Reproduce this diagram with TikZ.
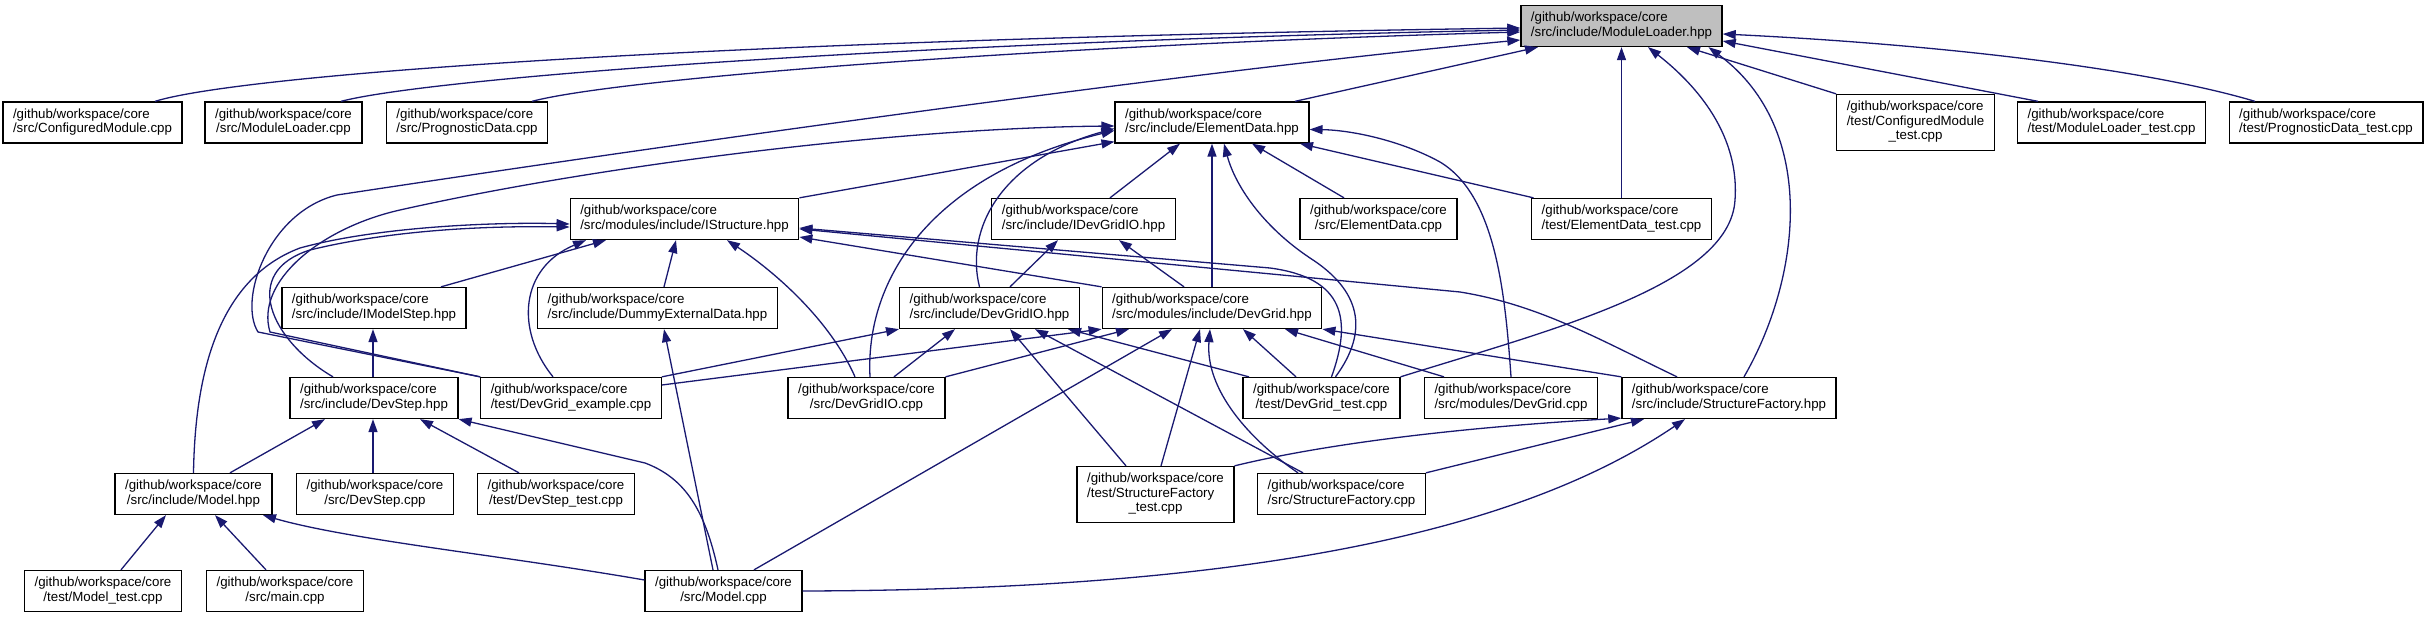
\documentclass[tikz,border=0pt]{standalone}
\usepackage{fontspec}
\setmainfont{Liberation Sans}
\usetikzlibrary{arrows.meta}
\definecolor{navy}{HTML}{191970}
\definecolor{grey75}{HTML}{BFBFBF}
\newcommand{\lbl}[2]{\begin{tabular}{@{}l@{}}#1\\\multicolumn{1}{@{}c@{}}{#2}\end{tabular}}
\newcommand{\lblt}[3]{\begin{tabular}{@{}l@{}}#1\\#2\\\multicolumn{1}{@{}c@{}}{#3}\end{tabular}}
\newcommand{\gwc}{/github/workspace/core}
\tikzset{
  box/.style={draw=black, fill=white, line width=1.3pt, inner xsep=10pt, inner ysep=0pt,
              minimum height=41pt, font=\fontsize{13.3}{14.5}\selectfont},
  boxthree/.style={box, minimum height=56pt},
  rootbox/.style={box, fill=grey75},
  inc/.style={draw=navy, line width=1.3pt, -{Triangle[length=13pt,width=9pt]}}
}
\begin{document}
\begin{tikzpicture}[x=1pt,y=-1pt]
\useasboundingbox (0,0) rectangle (2429,617);
% rank 0
\node[rootbox] (MLH) at (1621.5,26) {\lbl{\gwc}{/src/include/ModuleLoader.hpp}};
% rank 1
\node[box] (CMcpp) at (92.5,122.5) {\lbl{\gwc}{/src/ConfiguredModule.cpp}};
\node[box] (MLcpp) at (283.5,122.5) {\lbl{\gwc}{/src/ModuleLoader.cpp}};
\node[box] (PDcpp) at (467,122.5) {\lbl{\gwc}{/src/PrognosticData.cpp}};
\node[box] (EDH) at (1212,122.5) {\lbl{\gwc}{/src/include/ElementData.hpp}};
\node[boxthree] (CMtest) at (1915.5,122.5) {\lblt{\gwc}{/test/ConfiguredModule}{\_test.cpp}};
\node[box] (MLtest) at (2111.5,122.5) {\lbl{\gwc}{/test/ModuleLoader\_test.cpp}};
\node[box] (PDtest) at (2326,122.5) {\lbl{\gwc}{/test/PrognosticData\_test.cpp}};
% rank 2
\node[box] (IStr) at (684.5,219) {\lbl{\gwc}{/src/modules/include/IStructure.hpp}};
\node[box] (IDGIO) at (1083.5,219) {\lbl{\gwc}{/src/include/IDevGridIO.hpp}};
\node[box] (EDcpp) at (1378.5,219) {\lbl{\gwc}{/src/ElementData.cpp}};
\node[box] (EDtest) at (1621.5,219) {\lbl{\gwc}{/test/ElementData\_test.cpp}};
% rank 3
\node[box] (IMS) at (374,308) {\lbl{\gwc}{/src/include/IModelStep.hpp}};
\node[box] (DED) at (657.5,308) {\lbl{\gwc}{/src/include/DummyExternalData.hpp}};
\node[box] (DGIOh) at (989.5,308) {\lbl{\gwc}{/src/include/DevGridIO.hpp}};
\node[box] (DGh) at (1212,308) {\lbl{\gwc}{/src/modules/include/DevGrid.hpp}};
% rank 4
\node[box] (DSh) at (374,398) {\lbl{\gwc}{/src/include/DevStep.hpp}};
\node[box] (DGex) at (571,398) {\lbl{\gwc}{/test/DevGrid\_example.cpp}};
\node[box] (DGIOcpp) at (866.5,398) {\lbl{\gwc}{/src/DevGridIO.cpp}};
\node[box] (DGtest) at (1321.5,398) {\lbl{\gwc}{/test/DevGrid\_test.cpp}};
\node[box] (DGcpp) at (1511,398) {\lbl{\gwc}{/src/modules/DevGrid.cpp}};
\node[box] (SFh) at (1729,398) {\lbl{\gwc}{/src/include/StructureFactory.hpp}};
% rank 5
\node[box] (Mh) at (193.5,494) {\lbl{\gwc}{/src/include/Model.hpp}};
\node[box] (DScpp) at (375,494) {\lbl{\gwc}{/src/DevStep.cpp}};
\node[box] (DStest) at (556,494) {\lbl{\gwc}{/test/DevStep\_test.cpp}};
\node[boxthree] (SFtest) at (1155.5,494.5) {\lblt{\gwc}{/test/StructureFactory}{\_test.cpp}};
\node[box] (SFcpp) at (1341.5,494) {\lbl{\gwc}{/src/StructureFactory.cpp}};
% rank 6
\node[box] (Mtest) at (103,591) {\lbl{\gwc}{/test/Model\_test.cpp}};
\node[box] (main) at (285,591) {\lbl{\gwc}{/src/main.cpp}};
\node[box] (Mcpp) at (723.5,591) {\lbl{\gwc}{/src/Model.cpp}};

% ---- edges into ModuleLoader.hpp
\draw[inc] ([xshift=62.5pt]CMcpp.north) .. controls (240,75) and (700,40) .. ([yshift=-2pt]MLH.west);
\draw[inc] ([xshift=57.5pt]MLcpp.north) .. controls (430,78) and (900,42) .. ([yshift=-4pt]MLH.west);
\draw[inc] ([xshift=65pt]PDcpp.north) .. controls (620,78) and (1050,45) .. ([yshift=-6pt]MLH.west);
\draw[inc] ([xshift=83pt]EDH.north) -- ([xshift=-83.5pt]MLH.south);
\draw[inc] (DGex.north west) -- (258,332) .. controls (238,300) and (268,212) .. (337,195) .. controls (700,140) and (1200,70) .. ([yshift=-14pt]MLH.west);
\draw[inc] (EDtest.north) -- (MLH.south);
\draw[inc] (CMtest.north west) -- ([xshift=65.5pt]MLH.south);
\draw[inc] ([xshift=-73.5pt]MLtest.north) -- ([yshift=-15pt]MLH.east);
\draw[inc] ([xshift=-71pt]PDtest.north) .. controls (2150,70) and (1950,45) .. ([yshift=-8pt]MLH.east);
\draw[inc] ([xshift=15pt]SFh.north) .. controls (1800,280) and (1820,130) .. ([xshift=87pt]MLH.south);
\draw[inc] (DGtest.north east) .. controls (1550,330) and (1730,285) .. (1735,200) .. controls (1740,130) and (1690,80) .. ([xshift=26.5pt]MLH.south);

% ---- edges into ElementData.hpp
\draw[inc] (DGex.north west) -- (270,332) .. controls (255,282) and (320,228) .. (400,210) .. controls (600,165) and (900,128) .. ([yshift=-3.5pt]EDH.west);
\draw[inc] (IStr.north east) -- ([yshift=2pt]EDH.south west);
\draw[inc] ([xshift=26.5pt]IDGIO.north) -- ([xshift=-32pt]EDH.south);
\draw[inc] (DGh.north) -- (EDH.south);
\draw[inc] ([xshift=-34.5pt]EDcpp.north) -- ([xshift=40pt]EDH.south);
\draw[inc] ([xshift=-88pt]EDtest.north) -- ([xshift=88pt]EDH.south);
\draw[inc] (DGcpp.north) .. controls (1505,290) and (1495,195) .. (1440,162) .. controls (1400,140) and (1350,130) .. ([yshift=-7pt]EDH.east);
\draw[inc] ([xshift=14pt]DGtest.north) .. controls (1370,330) and (1360,290) .. (1310,258) .. controls (1262,226) and (1235,185) .. ([xshift=12pt]EDH.south);
\draw[inc] ([xshift=-10pt]DGIOh.north) .. controls (965,230) and (1000,160) .. ([yshift=-6pt]EDH.west);
\draw[inc] ([xshift=3.5pt]DGIOcpp.north) .. controls (865,280) and (930,175) .. ([yshift=-8pt]EDH.west);

% ---- edges into IStructure.hpp
\draw[inc] (Mh.north) .. controls (195,380) and (215,280) .. (300,248) .. controls (380,226) and (500,222) .. ([yshift=-5pt]IStr.west);
\draw[inc] ([xshift=-41pt]DSh.north) .. controls (270,340) and (240,272) .. (310,250) .. controls (400,228) and (500,226) .. ([yshift=-8pt]IStr.west);
\draw[inc] ([xshift=-18pt]DGex.north) .. controls (515,330) and (520,268) .. ([xshift=-98.5pt]IStr.south);
\draw[inc] ([xshift=67pt]IMS.north) -- ([xshift=-78.5pt]IStr.south);
\draw[inc] ([xshift=6.5pt]DED.north) -- ([xshift=-8.5pt]IStr.south);
\draw[inc] ([xshift=-11.5pt]DGIOcpp.north) .. controls (830,320) and (775,272) .. ([xshift=42.5pt]IStr.south);
\draw[inc] (DGh.north west) -- ([yshift=-18pt]IStr.east);
\draw[inc] ([xshift=10pt]DGtest.north) .. controls (1352,320) and (1345,278) .. (1270,268) -- ([yshift=-9pt]IStr.east);
\draw[inc] ([xshift=-52pt]SFh.north) .. controls (1600,340) and (1540,305) .. (1460,292) -- ([yshift=-10pt]IStr.east);

% ---- edges into IDevGridIO.hpp
\draw[inc] ([xshift=20.5pt]DGIOh.north) -- ([xshift=-25.5pt]IDGIO.south);
\draw[inc] ([xshift=-28pt]DGh.north) -- ([xshift=35.5pt]IDGIO.south);

% ---- edges into DevGridIO.hpp
\draw[inc] (DGex.north east) -- (DGIOh.south west);
\draw[inc] ([xshift=27.5pt]DGIOcpp.north) -- ([xshift=-34.5pt]DGIOh.south);
\draw[inc] ([xshift=-29.5pt]SFtest.north) -- ([xshift=20.5pt]DGIOh.south);
\draw[inc] ([xshift=-38.5pt]SFcpp.north) -- ([xshift=45.5pt]DGIOh.south);
\draw[inc] ([xshift=-72.5pt]DGtest.north) -- ([xshift=78.5pt]DGIOh.south);

% ---- edges into DevGrid.hpp
\draw[inc] ([yshift=13pt]DGex.east) -- (DGh.south west);
\draw[inc] (DGIOcpp.north east) -- ([xshift=-83pt]DGh.south);
\draw[inc] ([xshift=30.5pt]Mcpp.north) -- ([xshift=-40pt]DGh.south);
\draw[inc] ([xshift=5.5pt]SFtest.north) -- ([xshift=-12pt]DGh.south);
\draw[inc] ([xshift=-43.5pt]SFcpp.north) .. controls (1250,440) and (1205,390) .. ([xshift=-2pt]DGh.south);
\draw[inc] ([xshift=-25.5pt]DGtest.north) -- ([xshift=31pt]DGh.south);
\draw[inc] ([xshift=-67pt]DGcpp.north) -- ([xshift=73pt]DGh.south);
\draw[inc] (SFh.north west) -- (DGh.south east);

% ---- DummyExternalData, IModelStep
\draw[inc] ([xshift=-10.5pt]Mcpp.north) -- ([xshift=6.5pt]DED.south);
\draw[inc] ([xshift=-1pt]DSh.north) -- ([xshift=-1pt]IMS.south);

% ---- edges into DevStep.hpp
\draw[inc] ([xshift=36.5pt]Mh.north) -- ([xshift=-49pt]DSh.south);
\draw[inc] ([xshift=-2pt]DScpp.north) -- ([xshift=-1pt]DSh.south);
\draw[inc] ([xshift=-37pt]DStest.north) -- ([xshift=46pt]DSh.south);
\draw[inc] ([xshift=-5.5pt]Mcpp.north) .. controls (705,510) and (685,478) .. (645,463) -- (DSh.south east);

% ---- edges into Model.hpp
\draw[inc] ([xshift=18pt]Mtest.north) -- ([xshift=-27.5pt]Mh.south);
\draw[inc] ([xshift=-19pt]main.north) -- ([xshift=21.5pt]Mh.south);
\draw[inc] ([yshift=11pt]Mcpp.west) .. controls (500,555) and (350,540) .. ([xshift=69.5pt]Mh.south);

% ---- edges into StructureFactory.hpp
\draw[inc] (Mcpp.east) .. controls (1200,590) and (1500,545) .. ([xshift=-44pt]SFh.south);
\draw[inc] (SFtest.north east) .. controls (1320,445) and (1450,428) .. ([yshift=1pt]SFh.south west);
\draw[inc] (SFcpp.north east) -- ([xshift=-85pt]SFh.south);
\end{tikzpicture}
\end{document}
